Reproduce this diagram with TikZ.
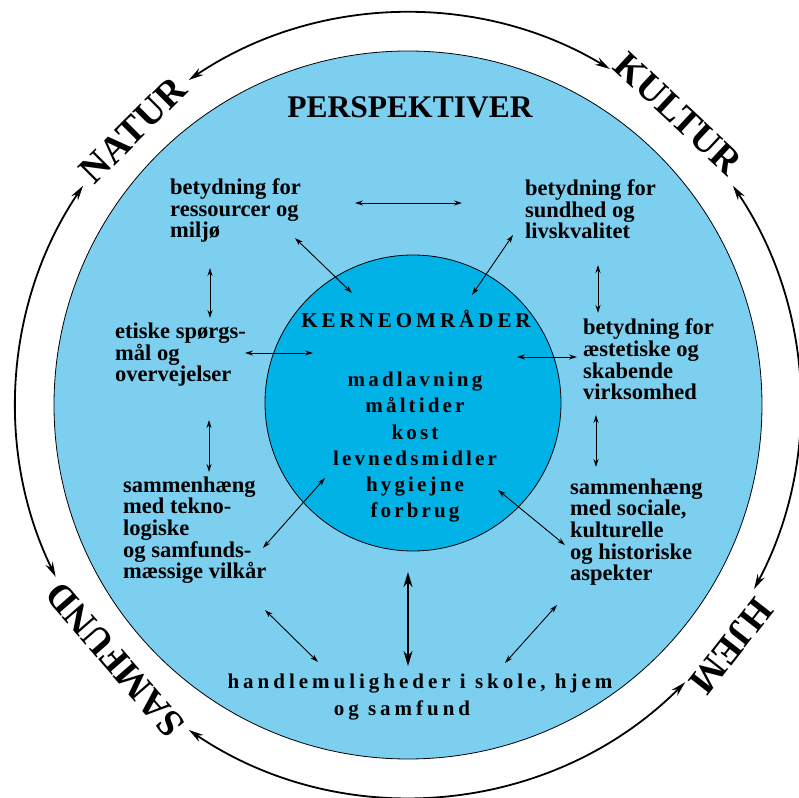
\documentclass[tikz,border=0pt]{standalone}
\usepackage{fontspec}
\setmainfont{Liberation Serif}
\newfontfamily\spaced[LetterSpace=15]{Liberation Serif}
\newfontfamily\widespaced[LetterSpace=19]{Liberation Serif}
\usetikzlibrary{arrows.meta, calc, positioning}
\definecolor{perspblue}{RGB}{125,207,240}
\definecolor{kerneblue}{RGB}{0,178,230}

\begin{document}
\begin{tikzpicture}[x=10pt,y=10pt,
  txt/.style={font=\fontsize{22.5}{21.7}\selectfont\bfseries, align=left, inner sep=0, anchor=base west},
  kern/.style={font=\spaced\fontsize{21}{26.3}\selectfont\bfseries, align=center, inner sep=0, anchor=base},
  ringlabel/.style={font=\fontsize{38}{40}\selectfont\bfseries, inner sep=0},
  arr/.style={{Stealth[length=8pt,width=5pt]}-{Stealth[length=8pt,width=5pt]}, line width=0.9pt},
  bigarr/.style={{Stealth[length=15pt,width=9pt]}-{Stealth[length=15pt,width=9pt]}, line width=2.2pt},
  ringarr/.style={{Stealth[length=15pt,width=8pt]}-{Stealth[length=15pt,width=8pt]}, line width=1.8pt}]
	\useasboundingbox (-40.8,-39.3) rectangle (39.1,40.5);

	% perspectives (big circle)
	\fill[perspblue, draw=black, line width=0.8pt] (0,0) circle (35.4);
	\node[font=\fontsize{31.5}{34}\selectfont\bfseries, inner sep=0, anchor=base] (persp) at (0.2,28.7) {PERSPEKTIVER};

	% core areas (inner circle)
	\node[circle, fill=kerneblue, draw=black, line width=0.8pt, minimum size=296pt, inner sep=0] (core) at (0.5,0.2) {};
	\node[kern, font=\widespaced\fontsize{21}{26.3}\selectfont\bfseries] (kerne) at (0.8,7.7) {KERNEOMRÅDER};
	\node[kern] (list) at (0.7,-11.3) {madlavning\\måltider\\kost\\levnedsmidler\\hygiejne\\forbrug};

	% perspective texts (anchored at the last line)
	\node[txt] (tl) at (-23.8,16.7) {betydning for\\ressourcer og\\miljø};
	\node[txt] (tr) at (11.7,16.6) {betydning for\\sundhed og\\livskvalitet};
	\node[txt] (ml) at (-29.3,2.3) {etiske spørgs-\\mål og\\overvejelser};
	\node[txt] (mr) at (17.5,0.5) {betydning for\\æstetiske og\\skabende\\virksomhed};
	\node[txt] (bl) at (-28.5,-17.4) {sammenhæng\\med tekno-\\logiske\\og samfunds-\\mæssige vilkår};
	\node[txt] (br) at (16.2,-17.6) {sammenhæng\\med sociale,\\kulturelle\\og historiske\\aspekter};
	\node[kern, font=\widespaced\fontsize{21}{27}\selectfont\bfseries] (handle) at (1.2,-31.0) {handlemuligheder i skole, hjem\\og samfund\hspace*{36pt}};

	% arrow ends
	\coordinate (tl-e) at (-5.3,20.2);   \coordinate (tr-w) at (5.4,20.2);
	\coordinate (tl-c) at (-11.3,16.7);  \coordinate (core-tl) at (-5.6,11.2);
	\coordinate (tr-c) at (10.5,17.0);   \coordinate (core-tr) at (6.4,11.0);
	\coordinate (tl-s) at (-19.8,13.7);  \coordinate (ml-n) at (-19.8,8.7);
	\coordinate (ml-e) at (-16.3,5.2);   \coordinate (core-l) at (-9.5,5.2);
	\coordinate (tr-s) at (19.0,14.0);   \coordinate (mr-n) at (19.0,9.2);
	\coordinate (core-r) at (10.9,4.8);  \coordinate (mr-w) at (16.9,4.8);
	\coordinate (ml-s) at (-19.9,-1.5);  \coordinate (bl-n) at (-19.9,-6.7);
	\coordinate (mr-s) at (18.8,-1.0);   \coordinate (br-n) at (18.8,-6.2);
	\coordinate (core-bl) at (-8.3,-7.3); \coordinate (bl-e) at (-14.5,-14.3);
	\coordinate (core-br) at (9.0,-8.5);  \coordinate (br-w) at (15.7,-14.0);
	\coordinate (bl-s) at (-14.3,-20.5); \coordinate (handle-l) at (-9.0,-25.7);
	\coordinate (br-s) at (14.9,-20.0);  \coordinate (handle-r) at (9.7,-25.8);
	\coordinate (core-s) at (0,-16.7);   \coordinate (handle-n) at (0,-26.1);

	% links
	\draw[arr] (tl-e) -- (tr-w);
	\draw[arr] (tl-c) -- (core-tl);
	\draw[arr] (tr-c) -- (core-tr);
	\draw[arr] (tl-s) -- (ml-n);
	\draw[arr] (ml-e) -- (core-l);
	\draw[arr] (tr-s) -- (mr-n);
	\draw[arr] (core-r) -- (mr-w);
	\draw[arr] (ml-s) -- (bl-n);
	\draw[arr] (mr-s) -- (br-n);
	\draw[arr] (core-bl) -- (bl-e);
	\draw[arr] (core-br) -- (br-w);
	\draw[arr] (bl-s) -- (handle-l);
	\draw[arr] (br-s) -- (handle-r);
	\draw[bigarr] (core-s) -- (handle-n);

	% outer ring
	\draw[ringarr] (124:39.2) arc[start angle=124, end angle=59, radius=39.2];
	\draw[ringarr] (34:39.2) arc[start angle=34, end angle=-28, radius=39.2];
	\draw[ringarr] (-45:39.2) arc[start angle=-45, end angle=-124, radius=39.2];
	\draw[ringarr] (206:39.2) arc[start angle=206, end angle=146, radius=39.2];
	\node[ringlabel, rotate=45] (natur) at (-27.5,27.5) {NATUR};
	\node[ringlabel, rotate=-43] (kultur) at (27.0,29.1) {KULTUR};
	\node[ringlabel, rotate=-128] (hjem) at (32.3,-24.1) {HJEM};
	\node[ringlabel, rotate=131] (samfund) at (-29.3,-25.5) {SAMFUND};
\end{tikzpicture}
\end{document}
